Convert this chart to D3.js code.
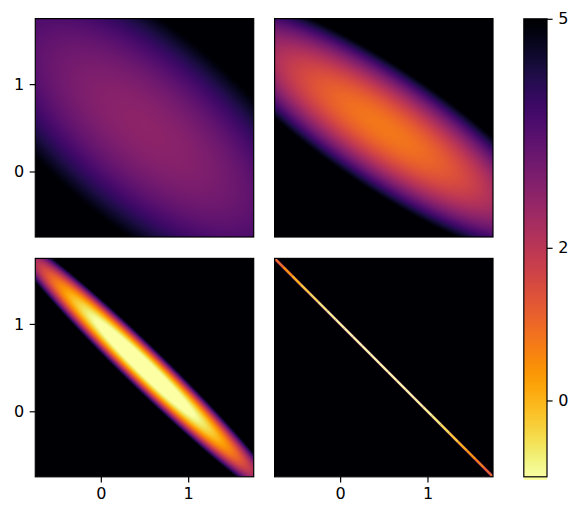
<!DOCTYPE html>
<html>
<head>
<meta charset="utf-8">
<script src="https://d3js.org/d3.v7.min.js"></script>
<style>
    html, body { margin: 0; background: #fff; }
    svg { display: block; }
    text { font-family: "DejaVu Sans", sans-serif; font-size: 16px; fill: #000; }
</style>
</head>
<body>
<script>
// cell values at the grid stations, top row is y = 1.75, left column is x = -0.75
var gridStations = [-0.75, -0.25, 0.25, 0.75, 1.25, 1.75];
var valuesTopLeft = [
    [3.66, 3.67, 4.16, 5.12, 6.55, 8.46],
    [3.42, 3.05, 3.15, 3.72, 4.77, 6.30],
    [3.78, 3.02, 2.74, 2.93, 3.60, 4.74],
    [4.74, 3.60, 2.93, 2.74, 3.02, 3.78],
    [6.30, 4.77, 3.72, 3.15, 3.05, 3.42],
    [8.46, 6.55, 5.12, 4.16, 3.67, 3.66]
];
var valuesTopRight = [
    [3.77, 5.35, 8.57, 13.45, 19.97, 28.15],
    [2.25, 1.87, 3.15, 6.07, 10.65, 16.87],
    [3.92, 1.60, 0.92, 1.90, 4.52, 8.80],
    [8.80, 4.52, 1.90, 0.92, 1.60, 3.92],
    [16.87, 10.65, 6.07, 3.15, 1.87, 2.25],
    [28.15, 19.97, 13.45, 8.57, 5.35, 3.77]
];
var valuesBottomLeft = [
    [2.42, 17.92, 63.42, 138.92, 244.42, 379.92],
    [14.42, -0.28, 15.02, 60.32, 135.62, 240.92],
    [58.17, 13.27, -1.63, 13.47, 58.57, 133.67],
    [133.67, 58.57, 13.47, -1.63, 13.27, 58.17],
    [240.92, 135.62, 60.32, 15.02, -0.28, 14.42],
    [379.92, 244.42, 138.92, 63.42, 17.92, 2.42]
];
// bottom right panel is only a thin ridge along x + y = 1
var ridgeX = [-0.75, -0.65, -0.55, -0.45, -0.35, -0.25, -0.15, -0.05, 0.05, 0.15, 0.25, 0.35, 0.45, 0.55, 0.65, 0.75, 0.85, 0.95, 1.05, 1.15, 1.25, 1.35, 1.45, 1.55, 1.65, 1.75];
var ridgeValues = [1.2, 0.7, 0.2, -0.1, -0.4, -0.6, -0.8, -0.9, -0.95, -1, -1, -1, -1, -1, -1, -1, -0.95, -0.9, -0.8, -0.6, -0.4, -0.1, 0.2, 0.5, 0.9, 1.3];
var ridgeEdgeValue = 3.2;

var axisTicks = [0, 1];
var colorbarTicks = [0, 2, 5];
var colorDomain = [5, -1];

var width = 582;
var height = 518;
var size = 218.4;
var columns = [35.3, 274.6];
var rows = [18.6, 258.4];
var tickLength = 5.6;
var spine = 1.2;

var color = d3.scaleSequential(d3.interpolateInferno).domain(colorDomain).clamp(true);

var svg = d3.select('body').append('svg').attr('width', width).attr('height', height);
var defs = svg.append('defs');

// catmull-rom through 4 stations, same idea as imshow with bicubic
function cubic(a, b, c, d, t) {
    return b + 0.5 * t * (c - a + t * (2 * a - 5 * b + 4 * c - d + t * (3 * (b - c) + d - a)));
}

function stationValue(table, i, j) {
    var n = table.length;
    if (j < 0) return 3 * stationValue(table, i, 0) - 3 * stationValue(table, i, 1) + stationValue(table, i, 2);
    if (j >= n) return 3 * stationValue(table, i, n - 1) - 3 * stationValue(table, i, n - 2) + stationValue(table, i, n - 3);
    if (i < 0) return 3 * table[0][j] - 3 * table[1][j] + table[2][j];
    if (i >= n) return 3 * table[n - 1][j] - 3 * table[n - 2][j] + table[n - 3][j];
    return table[i][j];
}

function sample(table, col, row) {
    var j = Math.min(Math.floor(col), table.length - 2);
    var i = Math.min(Math.floor(row), table.length - 2);
    var along = d3.range(-1, 3).map(function(k) {
        return cubic(stationValue(table, i + k, j - 1), stationValue(table, i + k, j),
            stationValue(table, i + k, j + 1), stationValue(table, i + k, j + 2), col - j);
    });
    return cubic(along[0], along[1], along[2], along[3], row - i);
}

function drawField(g, table, x, y) {
    var n = Math.ceil(size);
    var canvas = document.createElement('canvas');
    canvas.width = n;
    canvas.height = n;
    var ctx = canvas.getContext('2d');
    var img = ctx.createImageData(n, n);
    var col = d3.scaleLinear().domain(gridStations).range(d3.range(gridStations.length));
    for (var py = 0; py < n; py++) {
        for (var px = 0; px < n; px++) {
            var v = sample(table, col(x.invert(px + 0.5)), gridStations.length - 1 - col(y.invert(py + 0.5)));
            var c = d3.rgb(color(v));
            var k = (py * n + px) * 4;
            img.data[k] = c.r;
            img.data[k + 1] = c.g;
            img.data[k + 2] = c.b;
            img.data[k + 3] = 255;
        }
    }
    ctx.putImageData(img, 0, 0);
    g.append('image').attr('width', n).attr('height', n).attr('href', canvas.toDataURL());
}

function drawRidge(g, x, y) {
    var line = d3.line().x(function(d) { return x(d); }).y(function(d) { return y(1 - d); });
    g.append('rect').attr('width', size).attr('height', size).attr('fill', color(5));
    g.append('path').attr('d', line([ridgeX[0], ridgeX[ridgeX.length - 1]]))
        .attr('stroke', color(ridgeEdgeValue)).attr('stroke-width', 3).attr('fill', 'none');
    d3.pairs(ridgeX).forEach(function(pair, i) {
        g.append('path').attr('d', line(pair))
            .attr('stroke', color((ridgeValues[i] + ridgeValues[i + 1]) / 2))
            .attr('stroke-width', 2.2).attr('fill', 'none');
    });
}

function styleAxis(a) {
    a.select('.domain').remove();
    a.selectAll('.tick line').attr('stroke', '#000').attr('stroke-width', spine);
    a.selectAll('.tick text').attr('fill', '#000').style('font-size', '16px');
}

var panels = [
    { table: valuesTopLeft, col: 0, row: 0 },
    { table: valuesTopRight, col: 1, row: 0 },
    { table: valuesBottomLeft, col: 0, row: 1 },
    { table: null, col: 1, row: 1 }
];

panels.forEach(function(p, i) {
    var x = d3.scaleLinear().domain([-0.75, 1.75]).range([0, size]);
    var y = d3.scaleLinear().domain([-0.75, 1.75]).range([size, 0]);
    var g = svg.append('g').attr('transform', 'translate(' + columns[p.col] + ',' + rows[p.row] + ')');

    defs.append('clipPath').attr('id', 'clip' + i).append('rect').attr('width', size).attr('height', size);
    var field = g.append('g').attr('clip-path', 'url(#clip' + i + ')');
    if (p.table) {
        drawField(field, p.table, x, y);
    } else {
        drawRidge(field, x, y);
    }

    g.append('rect').attr('width', size).attr('height', size)
        .attr('fill', 'none').attr('stroke', '#000').attr('stroke-width', spine);

    if (p.col === 0) {
        g.append('g').call(d3.axisLeft(y).tickValues(axisTicks).tickFormat(d3.format('d')).tickSize(tickLength).tickPadding(5.6)).call(styleAxis);
    }
    if (p.row === 1) {
        g.append('g').attr('transform', 'translate(0,' + size + ')')
            .call(d3.axisBottom(x).tickValues(axisTicks).tickFormat(d3.format('d')).tickSize(tickLength).tickPadding(5.6)).call(styleAxis);
    }
});

// colorbar
var barX = 523.8;
var barWidth = 23.2;
var barTop = 18.8;
var barHeight = 458;
var barY = d3.scaleLinear().domain(colorDomain).range([0, barHeight]);
var bar = svg.append('g').attr('transform', 'translate(' + barX + ',' + barTop + ')');
var levels = d3.range(256).map(function(i) { return 5 - 6 * i / 255; });
bar.selectAll('rect.level').data(levels).enter().append('rect')
    .attr('class', 'level')
    .attr('width', barWidth)
    .attr('y', function(d) { return barY(d); })
    .attr('height', barHeight / 255 + 1)
    .attr('shape-rendering', 'crispEdges')
    .attr('fill', function(d) { return color(d); });
bar.append('rect').attr('width', barWidth).attr('height', barHeight)
    .attr('fill', 'none').attr('stroke', '#000').attr('stroke-width', spine);
bar.append('g').attr('transform', 'translate(' + barWidth + ',0)')
    .call(d3.axisRight(barY).tickValues(colorbarTicks).tickFormat(d3.format('d')).tickSize(tickLength).tickPadding(5.6))
    .call(styleAxis);
</script>
</body>
</html>
